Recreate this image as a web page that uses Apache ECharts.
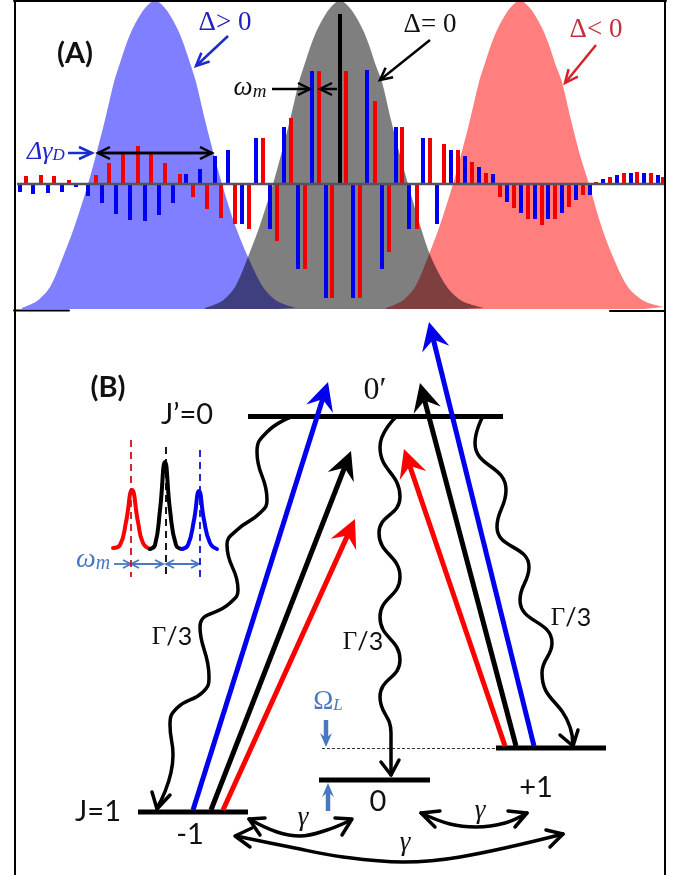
<!DOCTYPE html>
<html><head><meta charset="utf-8">
<style>html,body{margin:0;padding:0;background:#fff}#c{width:686px;height:875px}</style>
<script src="https://cdn.jsdelivr.net/npm/echarts@6/dist/echarts.min.js"></script>
</head><body><div id="c"></div>
<script>
// ---------- Panel A: sideband amplitudes (x position, signed amplitude) ----------
const blueBars = [[20,-8],[33,-10],[48,-9],[62,-8],[76,-3],[88,-12],[102,-19],[116,-30],[130,-36],[145,-37],[159,-31],[173,-19],[186,10],[200,15],[215,28],[228,34],[242,-40],[256,46],[270,-45],[284,57],[298,-85],[312,113],[326,-114],[353,-114],[367,114],[382,-85],[396,57],[409,-45],[423,46],[437,-40],[451,34],[465,28],[479,17],[493,10],[507,-18],[521,-29],[535,-35],[548,-35],[562,-29],[576,-16],[590,-11],[603,5],[617,9],[631,11],[644,11],[658,9]];
const redBars = [[26,8],[41,9],[54,8],[69,4],[82,1],[96,9],[109,21],[123,32],[138,38],[151,32],[165,21],[180,10],[193,-13],[207,-25],[221,-34],[235,-40],[249,-45],[263,46],[277,-57],[291,66],[305,-85],[319,113],[332,-114],[346,113],[360,-114],[375,83],[389,-68],[402,57],[417,-45],[430,46],[444,40],[458,34],[472,22],[486,11],[500,-13],[514,-24],[528,-35],[542,-41],[555,-35],[569,-23],[583,-11],[596,2],[610,7],[624,11],[637,12],[651,11],[663,7]];
const blackBars = [[340,170]];
const carrierLine = [[17,0],[664,0]];
// Velocity profiles (x, y on page)
const blueProfile = [[22,308],[37,301],[50,287],[63,257],[75,225],[88,184],[96,155],[105,120],[114,82],[119,66],[126,45],[132,30],[142,12],[150,3],[155,1],[160,3],[168,12],[178,30],[184,45],[191,66],[196,82],[205,120],[214,155],[222,184],[235,225],[248,257],[263,287],[277,301],[296,308]];
const redProfile = [[386,308],[402,301],[415,287],[428,257],[440,225],[453,184],[461,155],[470,120],[479,82],[484,66],[491,45],[497,30],[507,12],[515,3],[520,1],[525,3],[533,12],[543,30],[549,45],[556,66],[562,82],[571,120],[580,155],[589,184],[601,225],[613,257],[628,287],[644,301],[664,307]];
const greyProfile = [[205,308],[222,301],[235,287],[248,257],[260,225],[273,184],[281,155],[290,120],[299,82],[304,66],[311,45],[317,30],[327,12],[335,3],[340,1],[345,3],[353,12],[363,30],[369,45],[376,66],[382,82],[391,120],[400,155],[408,184],[420,225],[431,257],[447,287],[462,301],[484,308]];
// ---------- Frame ----------
const frameLines = [[[15,0],[15,875]],[[665,0],[665,875]],[[14,1],[666,1]],[[14,310.5],[69,310.5]],[[610,311],[665,311]]];
// ---------- Panel B: energy levels ----------
const levels = [[[248,416.5],[503,416.5]],[[138,812],[248,812]],[[319,780],[430,780]],[[496,748],[606,748]]];
const virtualLevel = [[322,748.5],[496,748.5]];
// Laser arrows x1,y1,x2,y2
const blueLasers = [[193,810,328,382],[534,746,429,322]];
const blackLasers = [[211,810,351,451],[516,746,420,383]];
const redLasers = [[223,810,355,519],[505,746,404,449]];
// Wavy decay paths
const decayLeft = [[291,417],[267,432],[257,452],[267,500],[260,513],[237,530],[227,545],[238,590],[230,603],[200,627],[209,677],[203,692],[177,708],[170,725],[173,755],[157,808]];
const decayCenter = [[396,417],[380,447],[400,497],[379,533],[400,577],[380,617],[400,660],[380,697],[391,733],[391,775]];
const decayRight = [[482,418],[475,443],[506,490],[497,527],[529,567],[520,600],[552,643],[542,673],[570,727],[573,746]];
const decayHeads = [[[152,792],[157,809],[170,795]],[[381,762],[391,775],[399,760]],[[560,735],[573,746],[578,730]]];
// Curved coupling arrows
const gammaCurves = [[[249,819],[277,832],[300,836],[327,830],[351,820]],[[421,813],[450,824],[476,827],[505,823],[527,813]],[[236,836],[290,847],[343,857],[403,862],[460,857],[563,834]]];
const gammaHeads = [[[265,818],[249,819],[260,835]],[[335,818],[352,819],[342,835]],[[440,811],[421,813],[435,827]],[[508,811],[527,813],[515,827]],[[252,828],[235,836],[250,847]],[[546,830],[563,834],[550,847]]];
// Inset peaks
const insetRed = [[113,548],[120,545],[126,522],[132,490],[138,522],[143,543],[150,549]];
const insetBlack = [[150,549],[155,545],[160,510],[165,462],[170,510],[176,545],[182,549]];
const insetBlue = [[182,549],[188,545],[194,520],[199,491],[204,520],[210,543],[217,549]];
const insetDashRed = [[131,440],[131,577]];
const insetDashBlack = [[166,447],[166,577]];
const insetDashBlue = [[200,450],[200,579]];
// Annotation arrows x1,y1,x2,y2
const noteBlue = [[228,36,196,66],[68,153,92,153]];
const noteBlack = [[430,40,380,80],[272,89,310,89],[337,89,320,89],[98,153,212,153],[212,153,98,153]];
const noteRed = [[596,45,565,83]];
const noteSteel = [[114,564,131,564],[163,564,131,564],[131,564,163,564],[199,564,166,564],[166,564,199,564]];
const thickSteel = [[326,720,326,747],[328,811,328,783]];
// Texts
const sansLabels = [['J’=0',187,415],['J=1',98,812],['-1',190,835],['0',378,802],['+1',536,788]];
const boldLabels = [['(A)',75,54],['(B)',108,388]];
const gammaRatio = [[172,637],[363,642],[571,618]];
const gammaLabels = [[303,818],[480,811],[405,843]];

const SANS='Lato', SERIF='"Liberation Serif"';
const BLUE='#0000ee', RED='#ff0000';

function line(data,color,width,extra){
  return Object.assign({type:'line',xAxisIndex:1,yAxisIndex:1,data:data,showSymbol:false,symbol:'none',silent:true,animation:false,
    lineStyle:{color:color,width:width,cap:'round',join:'round'},z:5},extra||{});
}
function profile(data,color){
  return {type:'line',xAxisIndex:0,yAxisIndex:0,data:data.map(d=>[d[0],184-d[1]]),symbol:'none',smooth:0.3,animation:false,silent:true,
    lineStyle:{width:0},areaStyle:{color:color,opacity:0.5,origin:'start'},z:1};
}
function bars(data,color,w){
  return {type:'bar',xAxisIndex:0,yAxisIndex:0,data:data,barWidth:w,barGap:'-100%',animation:false,silent:true,itemStyle:{color:color},z:3};
}
function arrows(rows,color,width,len,half,notch,open){
  return {type:'custom',xAxisIndex:1,yAxisIndex:1,data:rows,animation:false,silent:true,z:6,clip:false,
    renderItem:function(p,api){
      const a=api.coord([api.value(0),api.value(1)]),b=api.coord([api.value(2),api.value(3)]);
      const dx=b[0]-a[0],dy=b[1]-a[1],L=Math.hypot(dx,dy),ux=dx/L,uy=dy/L,nx=-uy,ny=ux;
      const back=[b[0]-ux*len,b[1]-uy*len];
      const w1=[back[0]+nx*half,back[1]+ny*half],w2=[back[0]-nx*half,back[1]-ny*half];
      const stop=open?b:[b[0]-ux*notch,b[1]-uy*notch];
      const kids=[{type:'line',shape:{x1:a[0],y1:a[1],x2:stop[0],y2:stop[1]},style:{stroke:color,lineWidth:width}}];
      if(open){kids.push({type:'polyline',shape:{points:[w1,b,w2]},style:{stroke:color,lineWidth:width,fill:null}});}
      else{kids.push({type:'polygon',shape:{points:[b,w1,stop,w2]},style:{fill:color}});}
      return {type:'group',children:kids};
    },encode:{x:[0,2],y:[1,3]}};
}
function texts(rows,style){
  return {type:'scatter',xAxisIndex:1,yAxisIndex:1,symbolSize:0,animation:false,silent:true,z:8,itemStyle:{opacity:1},
    data:rows.map(r=>({value:[r[r.length-2],r[r.length-1]],name:r.length>2?r[0]:''})),
    label:Object.assign({show:true,position:'inside',align:'center',verticalAlign:'middle',opacity:1,formatter:p=>style.text||p.name},style)};
}
const INK='#111111', STEEL='#4a78c0';
const series=[
  profile(blueProfile,'#0000ff'),profile(redProfile,'#ff0000'),profile(greyProfile,'#000000'),
  bars(blueBars,'#0000f0',4),bars(redBars,'#f00000',4),bars(blackBars,'#000000',4),
  {type:'line',xAxisIndex:0,yAxisIndex:0,data:carrierLine,symbol:'none',animation:false,silent:true,lineStyle:{color:'#55555f',width:2.5},z:4}
];
frameLines.forEach(f=>series.push(line(f,'#000',2,{z:9})));
levels.forEach(f=>series.push(line(f,'#000',5,{lineStyle:{color:'#000',width:5,cap:'butt'}})));
series.push(line(virtualLevel,'#333',1,{lineStyle:{color:'#333',width:1,type:[3,2]}}));
[decayLeft,decayCenter,decayRight].forEach(f=>series.push(line(f,'#000',3.5,{smooth:0.5})));
decayHeads.forEach(f=>series.push(line(f,'#000',3.5)));
gammaCurves.forEach(f=>series.push(line(f,'#000',3.5,{smooth:0.4})));
gammaHeads.forEach(f=>series.push(line(f,'#000',3.5)));
series.push(line(insetRed,RED,4,{smooth:0.5}),line(insetBlack,'#000',4,{smooth:0.5}),line(insetBlue,BLUE,4,{smooth:0.5}));
[[insetDashRed,'#d01020'],[insetDashBlack,'#000'],[insetDashBlue,'#1010d0']].forEach(f=>series.push(line(f[0],f[1],1.8,{z:6,lineStyle:{color:f[1],width:1.8,type:[7,5],cap:'butt'}})));
series.push(arrows(blueLasers,BLUE,5,28,14,18,false),arrows(blackLasers,'#000',5,28,14,18,false),arrows(redLasers,RED,5,28,14,18,false));
series.push(arrows(noteBlue,'#1a2ccc',2.5,13,6,0,true),arrows(noteBlack,'#000',2.5,12,6,0,true),arrows(noteRed,'#d8202c',2.5,13,6,0,true));
series.push(arrows(noteSteel,STEEL,1.8,8,4,0,true),arrows(thickSteel,STEEL,4.5,14,6,9,false));
series.push(texts(sansLabels,{fontFamily:SANS,fontSize:29,color:INK}));
series.push(texts(boldLabels,{fontFamily:SANS,fontSize:29,fontWeight:'bold',color:INK}));
series.push(texts(gammaRatio,{text:'{g|Γ}{s|/3}',rich:{g:{fontFamily:SERIF,fontSize:25,color:INK},s:{fontFamily:SANS,fontSize:25,color:INK}}}));
series.push(texts(gammaLabels,{text:'γ',fontFamily:SERIF,fontStyle:'italic',fontSize:27,color:INK}));
series.push(texts([[375,391]],{text:'0′',fontFamily:SERIF,fontSize:32,color:INK}));
series.push(texts([[225,23]],{text:'Δ> 0',fontFamily:SERIF,fontSize:27,color:'#2222bb'}));
series.push(texts([[430,25]],{text:'Δ= 0',fontFamily:SERIF,fontSize:27,color:INK}));
series.push(texts([[596,30]],{text:'Δ< 0',fontFamily:SERIF,fontSize:27,color:'#c03040'}));
series.push(texts([[250,88]],{text:'{a|ω}{b|m}',rich:{a:{fontFamily:SERIF,fontStyle:'italic',fontSize:27,color:INK},b:{fontFamily:SERIF,fontStyle:'italic',fontSize:19,color:INK,padding:[8,0,0,0]}}}));
series.push(texts([[46,152]],{text:'{a|Δγ}{b|D}',rich:{a:{fontFamily:SERIF,fontStyle:'italic',fontSize:26,color:'#2222cc'},b:{fontFamily:SERIF,fontStyle:'italic',fontSize:17,color:'#2222cc',padding:[8,0,0,0]}}}));
series.push(texts([[93,560]],{text:'{a|ω}{b|m}',rich:{a:{fontFamily:SERIF,fontStyle:'italic',fontSize:28,color:STEEL},b:{fontFamily:SERIF,fontStyle:'italic',fontSize:20,color:STEEL,padding:[8,0,0,0]}}}));
series.push(texts([[328,702]],{text:'{a|Ω}{b|L}',rich:{a:{fontFamily:SERIF,fontSize:27,color:STEEL},b:{fontFamily:SERIF,fontStyle:'italic',fontSize:17,color:STEEL,padding:[8,0,0,0]}}}));

const chart=echarts.init(document.getElementById('c'),null,{renderer:'canvas'});
chart.setOption({
  backgroundColor:'#ffffff',animation:false,
  grid:[{left:0,top:0,width:686,height:309},{left:0,top:0,width:686,height:875}],
  xAxis:[{type:'value',gridIndex:0,min:0,max:686,show:false},{type:'value',gridIndex:1,min:0,max:686,show:false}],
  yAxis:[{type:'value',gridIndex:0,min:-125,max:184,show:false},{type:'value',gridIndex:1,min:0,max:875,inverse:true,show:false}],
  series:series
});
</script></body></html>
